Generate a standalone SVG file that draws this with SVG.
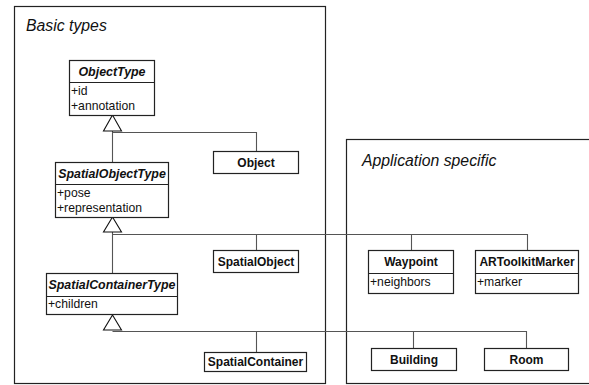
<svg xmlns="http://www.w3.org/2000/svg" width="589" height="385" viewBox="0 0 589 385">
  <style>
    .frame { fill: none; stroke: #222; stroke-width: 1.2; }
    .frame-title { font-family: "Liberation Sans", Arial, sans-serif; font-size: 15.8px; font-style: italic; fill: #111; }
    .box { fill: #fff; stroke: #222; stroke-width: 1.2; }
    .div { stroke: #222; stroke-width: 1.2; }
    .name { font-family: "Liberation Sans", Arial, sans-serif; font-size: 12px; font-weight: bold; fill: #111; text-anchor: middle; }
    .abstract { font-style: italic; font-size: 12.4px; }
    .attr { font-family: "Liberation Sans", Arial, sans-serif; font-size: 12.2px; fill: #111; }
    .conn { fill: none; stroke: #555; stroke-width: 1.1; }
    .gen { fill: #fff; stroke: #111; stroke-width: 1.1; }
  </style>

  <!-- package frames -->
  <g id="pkg-basic">
    <rect class="frame" x="14.5" y="6.5" width="311" height="377"/>
    <text class="frame-title" x="26" y="31">Basic types</text>
  </g>
  <g id="pkg-application">
    <rect class="frame" x="346.5" y="139.5" width="250" height="244"/>
    <text class="frame-title" x="362" y="166">Application specific</text>
  </g>

  <!-- generalization connectors -->
  <g id="connectors">
    <path class="conn" d="M112.5,131 V162 M112.5,132.5 H256.5 V151"/>
    <path class="conn" d="M112.5,232 V273 M112.5,234.5 H527.5 V250 M256.5,234.5 V250 M411.5,234.5 V250"/>
    <path class="conn" d="M112.5,331.5 H526.5 V348 M256.5,331.5 V352 M413.5,331.5 V348"/>
    <polygon class="gen" points="112.5,115 103.5,131 121.5,131"/>
    <polygon class="gen" points="112.5,217 103.5,232 121.5,232"/>
    <polygon class="gen" points="112.5,315 103.5,330 121.5,330"/>
  </g>

  <!-- classes -->
  <g id="ObjectType">
    <rect class="box" x="69.5" y="60.5" width="85" height="55"/>
    <line class="div" x1="69.5" y1="82.5" x2="154.5" y2="82.5"/>
    <text class="name abstract" x="112" y="75.5">ObjectType</text>
    <text class="attr" x="71" y="95">+id</text>
    <text class="attr" x="71" y="109.5">+annotation</text>
  </g>
  <g id="Object">
    <rect class="box" x="213.5" y="151.5" width="85" height="22"/>
    <text class="name" x="256" y="166.5">Object</text>
  </g>
  <g id="SpatialObjectType">
    <rect class="box" x="55.5" y="162.5" width="113" height="55"/>
    <line class="div" x1="55.5" y1="184.5" x2="168.5" y2="184.5"/>
    <text class="name abstract" x="112" y="177.5">SpatialObjectType</text>
    <text class="attr" x="57" y="196.5">+pose</text>
    <text class="attr" x="57" y="211.5">+representation</text>
  </g>
  <g id="SpatialObject">
    <rect class="box" x="213.5" y="250.5" width="85" height="22"/>
    <text class="name" x="256" y="265.5">SpatialObject</text>
  </g>
  <g id="SpatialContainerType">
    <rect class="box" x="46.5" y="273.5" width="131" height="41"/>
    <line class="div" x1="46.5" y1="296.5" x2="177.5" y2="296.5"/>
    <text class="name abstract" x="112" y="288.5">SpatialContainerType</text>
    <text class="attr" x="48" y="308">+children</text>
  </g>
  <g id="SpatialContainer">
    <rect class="box" x="204.5" y="352.5" width="102" height="19"/>
    <text class="name" x="255.5" y="366">SpatialContainer</text>
  </g>
  <g id="Waypoint">
    <rect class="box" x="368.5" y="250.5" width="85" height="43"/>
    <line class="div" x1="368.5" y1="273.5" x2="453.5" y2="273.5"/>
    <text class="name" x="411" y="265.5">Waypoint</text>
    <text class="attr" x="370" y="286">+neighbors</text>
  </g>
  <g id="ARToolkitMarker">
    <rect class="box" x="475.5" y="250.5" width="103" height="43"/>
    <line class="div" x1="475.5" y1="273.5" x2="578.5" y2="273.5"/>
    <text class="name" x="527" y="265.5">ARToolkitMarker</text>
    <text class="attr" x="477" y="286">+marker</text>
  </g>
  <g id="Building">
    <rect class="box" x="371.5" y="348.5" width="85" height="22"/>
    <text class="name" x="414" y="363.5">Building</text>
  </g>
  <g id="Room">
    <rect class="box" x="484.5" y="348.5" width="84" height="22"/>
    <text class="name" x="526.5" y="363.5">Room</text>
  </g>
</svg>
